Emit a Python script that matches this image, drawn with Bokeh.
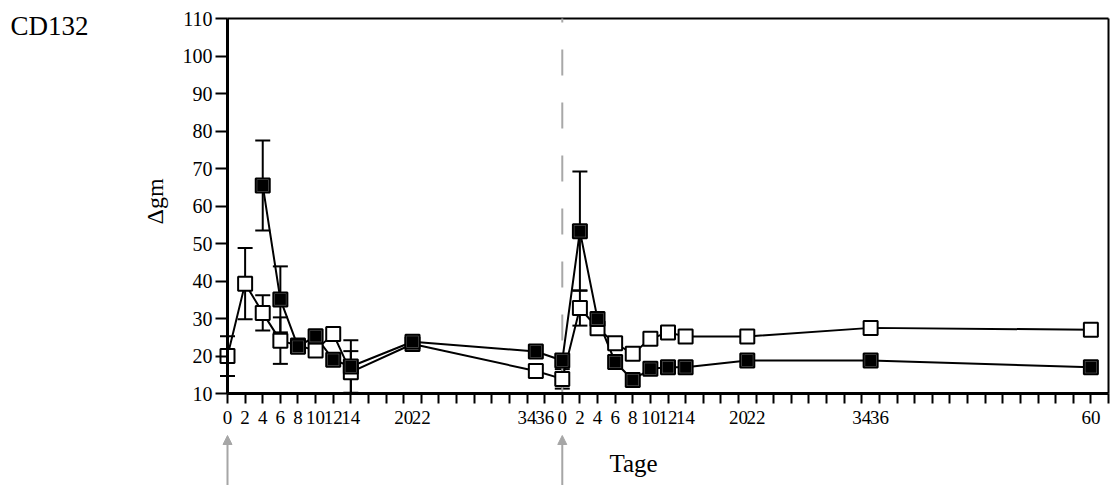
import math
from bokeh.plotting import figure
from bokeh.models import (Range1d, FixedTicker, ColumnDataSource, Whisker, TeeHead,
                          Arrow, NormalHead)
from bokeh.core.properties import value
from bokeh.embed import file_html
from bokeh.resources import INLINE

# ---------------- data ----------------
period1_days = [0, 2, 4, 6, 8, 10, 12, 14, 21, 35]
period2_days = [0, 2, 4, 6, 8, 10, 12, 14, 21, 35, 60]
period2_start = 38  # axis position of day 0 of the second period

open_p1 = [20.0, 39.3, 31.5, 24.1, 22.8, 21.5, 25.9, 15.7, 23.2, 16.0]
open_p1_err = [5.3, 9.5, 4.7, 6.2, 0, 0, 0, 5.6, 0, 0]
open_p2 = [13.9, 32.8, 27.4, 23.4, 20.6, 24.6, 26.3, 25.2, 25.2, 27.5, 27.0]
open_p2_err = [2.6, 4.7, 0, 0, 0, 0, 0, 0, 0, 0, 0]

filled_p1_days = [4, 6, 8, 10, 12, 14, 21, 35]
filled_p1 = [65.5, 35.1, 22.5, 25.3, 19.0, 17.2, 23.8, 21.2]
filled_p1_err = [12.0, 8.8, 0, 0, 0, 7.0, 0, 0]
filled_p2 = [18.8, 53.3, 29.9, 18.4, 13.6, 16.6, 17.0, 17.0, 18.8, 18.8, 17.0]
filled_p2_err = [0, 15.9, 0, 0, 0, 0, 0, 0, 0, 0, 0]

x_label_days_p1 = [0, 2, 4, 6, 8, 10, 12, 14, 20, 22, 34, 36]
x_label_days_p2 = [0, 2, 4, 6, 8, 10, 12, 14, 20, 22, 34, 36, 60]
y_ticks = list(range(10, 111, 10))
arrow_days = [0, period2_start]

title_text = "CD132"
x_title = "Tage"
y_title = "\u0394gm"

FONT = "Liberation Serif"

# ---------------- layout geometry (pixels) ----------------
W, H = 1112, 485
AX_LEFT, AX_RIGHT, AX_TOP, AX_BOTTOM = 227, 1108, 18, 393
X_MIN, X_MAX = 0, 100
Y_MIN, Y_MAX = 10, 110
px_x = (AX_RIGHT - AX_LEFT) / (X_MAX - X_MIN)
px_y = (AX_BOTTOM - AX_TOP) / (Y_MAX - Y_MIN)

def dx(px):  # canvas pixel -> x data
    return X_MIN + (px - AX_LEFT) / px_x

def dy(py):  # canvas pixel -> y data
    return Y_MIN + (AX_BOTTOM - py) / px_y

# ---------------- derived positions ----------------
open_x = period1_days + [d + period2_start for d in period2_days]
open_y = open_p1 + open_p2
open_e = open_p1_err + open_p2_err
filled_x = filled_p1_days + [d + period2_start for d in period2_days]
filled_y = filled_p1 + filled_p2
filled_e = filled_p1_err + filled_p2_err

p = figure(width=W, height=H, output_backend="svg", toolbar_location=None,
           x_range=Range1d(dx(0), dx(W)), y_range=Range1d(dy(H), dy(0)),
           min_border=0)
p.grid.visible = False
p.outline_line_color = None
p.background_fill_color = "white"
p.border_fill_color = "white"

# x axis (drawn at y = Y_MIN)
ticks = list(range(X_MIN, X_MAX + 1, 2))
overrides = {t: "" for t in ticks}
for d in x_label_days_p1:
    overrides[d] = str(d)
for d in x_label_days_p2:
    overrides[d + period2_start] = str(d)
xa = p.xaxis[0]
xa.fixed_location = Y_MIN
xa.bounds = (X_MIN, X_MAX)
xa.ticker = FixedTicker(ticks=ticks)
xa.major_label_overrides = overrides
xa.minor_tick_line_color = None
xa.major_tick_in = 0
xa.major_tick_out = 10
xa.major_tick_line_width = 2
xa.axis_line_width = 3
xa.major_label_text_font = FONT
xa.major_label_text_font_size = "19px"
xa.major_label_text_color = "black"
xa.major_label_standoff = 7

# y axis (drawn at x = X_MIN)
ya = p.yaxis[0]
ya.fixed_location = X_MIN
ya.bounds = (Y_MIN, Y_MAX)
ya.ticker = FixedTicker(ticks=y_ticks)
ya.minor_tick_line_color = None
ya.major_tick_in = 0
ya.major_tick_out = 12
ya.major_tick_line_width = 2
ya.axis_line_width = 3
ya.major_label_text_font = FONT
ya.major_label_text_font_size = "20px"
ya.major_label_text_color = "black"
ya.major_label_standoff = 3

# box: top and right edges
p.segment(x0=[X_MIN, X_MAX], y0=[Y_MAX, Y_MIN], x1=[X_MAX, X_MAX], y1=[Y_MAX, Y_MAX],
          line_color="black", line_width=2)

# dashed separator between periods (drawn bottom -> top)
p.line([period2_start, period2_start], [Y_MIN, Y_MAX], line_color="#a8a8a8",
       line_width=2, line_dash="26 27")

# error bars
def add_whiskers(xs, ys, es):
    sel = [(x, y, e) for x, y, e in zip(xs, ys, es) if e > 0]
    src = ColumnDataSource(dict(x=[s[0] for s in sel],
                                upper=[s[1] + s[2] for s in sel],
                                lower=[s[1] - s[2] for s in sel]))
    w = Whisker(source=src, base="x", upper="upper", lower="lower", dimension="height",
                line_color="black", line_width=2,
                upper_head=TeeHead(size=15, line_color="black", line_width=2),
                lower_head=TeeHead(size=15, line_color="black", line_width=2))
    p.add_layout(w)

add_whiskers(open_x, open_y, open_e)
add_whiskers(filled_x, filled_y, filled_e)

# lines
p.line(open_x, open_y, line_color="black", line_width=2)
p.line(filled_x, filled_y, line_color="black", line_width=2)

# markers
p.scatter(open_x, open_y, marker="square", size=14, fill_color="white",
          line_color="black", line_width=2)
p.scatter(filled_x, filled_y, marker="square", size=14, fill_color="#6e6e6e",
          line_color="black", line_width=2)
p.scatter(filled_x, filled_y, marker="square", size=11, fill_color="black",
          line_color=None)

# texts
p.text(x=[dx(10)], y=[dy(25)], text=[title_text], text_font=value(FONT),
       text_font_size="27px", text_color="black",
       text_baseline="alphabetic", text_align="left")
p.text(x=[dx(633)], y=[dy(463)], text=[x_title], text_font=value(FONT),
       text_font_size="25px", text_color="black",
       text_baseline="alphabetic", text_align="center")
p.text(x=[dx(154)], y=[dy(201)], text=[y_title], text_font=value(FONT),
       text_font_size="24px", text_color="black", angle=math.pi / 2,
       text_baseline="middle", text_align="center")

# arrows marking treatment days
for d in arrow_days:
    p.add_layout(Arrow(x_start=d, y_start=dy(H), x_end=d, y_end=dy(435),
                       line_color="#a6a6a6", line_width=2,
                       end=NormalHead(size=9, fill_color="#a6a6a6", line_color="#a6a6a6")))

open("out.html", "w").write(file_html(p, INLINE))
